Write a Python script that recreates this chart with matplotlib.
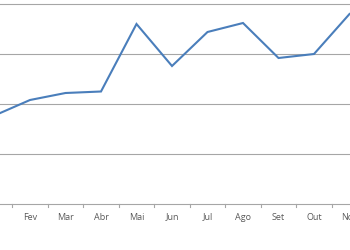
import matplotlib
matplotlib.use("Agg")
import matplotlib.pyplot as plt
import numpy as np

months = ["Jan", "Fev", "Mar", "Abr", "Mai", "Jun", "Jul", "Ago", "Set", "Out", "Nov"]
values = [17.7, 20.8, 22.2, 22.5, 36.0, 27.6, 34.4, 36.2, 29.2, 30.0, 38.0]
grid_values = [0, 10, 20, 30, 40]

fig = plt.figure(figsize=(3.5, 2.5), dpi=100)
ax = fig.add_axes([0, 0, 1, 1])
x = np.arange(len(months))
ax.plot(x, values, color="#4A7EBB", lw=1.5, solid_joinstyle="miter", zorder=3)

ax.set_xlim(0.155, 10.014)
ax.set_ylim(-9.2, 40.8)

for g in grid_values[1:]:
    ax.axhline(g, color="#A6A6A6", lw=0.8, zorder=1)
ax.axhline(0, color="#A6A6A6", lw=0.8, zorder=1)

for s in ax.spines.values():
    s.set_visible(False)
ax.set_yticks([])
ax.set_xticks([])
# category boundary tick marks
for b in np.arange(-0.5, len(months) + 0.5, 1.0):
    ax.plot([b, b], [0, -0.5], color="#A6A6A6", lw=0.8, clip_on=True, zorder=1)

for i, m in enumerate(months):
    ax.text(i, -2.6, m, ha="center", va="center", fontsize=6.5,
            color="#595959", family="Open Sans", clip_on=False)

fig.savefig("out.png", dpi=100)
